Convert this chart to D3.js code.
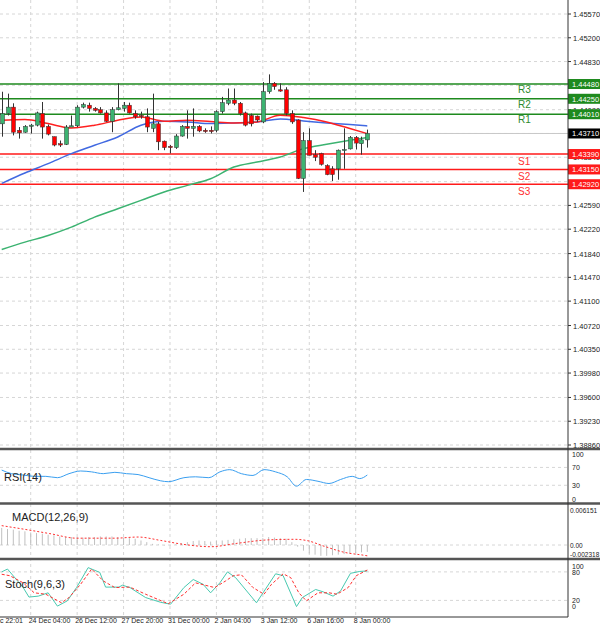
<!DOCTYPE html>
<html><head><meta charset="utf-8">
<script src="https://cdn.jsdelivr.net/npm/d3@7"></script>
<style>body{margin:0;background:#fff}svg{display:block;font-family:"Liberation Sans",Arial,sans-serif}</style>
</head><body><svg id="c" width="600" height="625"></svg>
<script>
// candles, 4h bars
const opens  = [1.4386,1.4402,1.4412,1.4376,1.4373,1.4382,1.4384,1.4402,1.4382,1.4366,1.4355,1.4354,1.4381,1.4383,1.4412,1.4415,1.4410,1.4408,1.4403,1.4390,1.4408,1.4410,1.4415,1.4402,1.4399,1.4397,1.4379,1.4386,1.4359,1.4351,1.4349,1.4367,1.4382,1.4379,1.4382,1.4376,1.4376,1.4376,1.4405,1.4418,1.4423,1.4418,1.4403,1.4399,1.4398,1.4389,1.4436,1.4449,1.4439,1.4439,1.4402,1.4392,1.4301,1.4360,1.4338,1.4340,1.4321,1.4316,1.4316,1.4345,1.4347,1.4365,1.4355,1.4361];
const highs  = [1.4436,1.4433,1.4418,1.4381,1.4384,1.4386,1.4405,1.4420,1.4385,1.4366,1.4360,1.4384,1.4399,1.4415,1.4419,1.4419,1.4412,1.4412,1.4407,1.4412,1.4449,1.4420,1.4419,1.4407,1.4405,1.4410,1.4433,1.4389,1.4360,1.4353,1.4370,1.4384,1.4407,1.4410,1.4384,1.4379,1.4382,1.4407,1.4428,1.4441,1.4441,1.4420,1.4405,1.4402,1.4399,1.4451,1.4463,1.4451,1.4449,1.4443,1.4407,1.4393,1.4373,1.4379,1.4345,1.4341,1.4323,1.4320,1.4346,1.4379,1.4367,1.4367,1.4366,1.4377];
const lows   = [1.4366,1.4399,1.4368,1.4363,1.4372,1.4371,1.4382,1.4363,1.4368,1.4351,1.4350,1.4353,1.4381,1.4381,1.4410,1.4405,1.4405,1.4402,1.4389,1.4373,1.4407,1.4405,1.4402,1.4394,1.4394,1.4373,1.4373,1.4345,1.4345,1.4340,1.4347,1.4366,1.4363,1.4366,1.4373,1.4372,1.4371,1.4373,1.4402,1.4415,1.4415,1.4399,1.4382,1.4382,1.4389,1.4387,1.4433,1.4439,1.4436,1.4399,1.4386,1.4300,1.4280,1.4337,1.4328,1.4321,1.4306,1.4297,1.4299,1.4316,1.4346,1.4346,1.4338,1.4349];
const closes = [1.4402,1.4412,1.4373,1.4372,1.4382,1.4384,1.4403,1.4381,1.4370,1.4353,1.4353,1.4381,1.4383,1.4412,1.4416,1.4410,1.4407,1.4403,1.4390,1.4408,1.4411,1.4415,1.4403,1.4397,1.4398,1.4381,1.4386,1.4358,1.4349,1.4349,1.4367,1.4382,1.4379,1.4382,1.4375,1.4374,1.4374,1.4405,1.4419,1.4423,1.4418,1.4402,1.4384,1.4386,1.4392,1.4436,1.4449,1.4444,1.4437,1.4402,1.4389,1.4301,1.4360,1.4337,1.4334,1.4323,1.4307,1.4307,1.4345,1.4346,1.4365,1.4356,1.4361,1.4371];

// moving averages sampled every 4 bars (last at bar 63)
const maIdx   = [0,4,8,12,16,20,24,28,32,36,40,44,48,52,56,60,63];
const maFast  = [1.43916,1.43926,1.43864,1.43796,1.43838,1.43916,1.43968,1.43900,1.43916,1.43895,1.43874,1.43890,1.43994,1.43958,1.43890,1.43786,1.43708];
const maMid   = [1.42933,1.43094,1.43240,1.43396,1.43526,1.43656,1.43838,1.43900,1.43890,1.43864,1.43874,1.43890,1.43937,1.43906,1.43874,1.43848,1.43828];
const maSlow  = [1.41904,1.42018,1.42122,1.42252,1.42408,1.42538,1.42668,1.42798,1.42902,1.43006,1.43188,1.43266,1.43344,1.43474,1.43542,1.43604,1.43646];

const levelNames  = ["R3","R2","R1","S1","S2","S3"];
const levelValues = [1.4448,1.4425,1.4401,1.4339,1.4315,1.4292];
const lastPrice = 1.4371;

const priceTicks = [1.45570,1.45200,1.44830,1.44460,1.44080,1.43710,1.43340,1.42960,1.42590,1.42220,1.41840,1.41470,1.41100,1.40720,1.40350,1.39980,1.39600,1.39230,1.38860];

const rsiIdx = [0,1.7,3.7,5.6,7.6,9.6,11.6,13.6,15.5,17.5,19.5,21.5,23.5,25.4,27.4,28.7,31.4,33.4,35.7,37.6,39.3,41.3,43.3,45.2,47.2,49.2,50.8,52.5,54.5,56.4,58.4,60.4,61.7,63];
const rsiVal = [64,56,53,50,50,47,56,62,60,56,59,56,54,47,40,38,47,49,47,60,65,56,52,65,60,49,28,43,39,34,43,50,45,53];

const macdHist = [.0030,.0028,.0027,.0025,.0024,.0022,.0021,.0020,.0018,.0017,.0015,.0014,.0014,.0014,.0013,.0014,.0014,.0015,.0015,.0015,.0014,.0013,.0012,.0011,.0008,.0005,.0002,.0001,-.0001,-.0001,.0001,.0003,.0005,.0007,.0008,.0007,.0006,.0007,.0008,.0009,.0010,.0011,.0012,.0012,.0012,.0012,.0014,.0013,.0012,.0011,.0005,-.0003,-.0010,-.0015,-.0017,-.0019,-.0019,-.0018,-.0017,-.0016,-.0015,-.0014,-.0013,-.0012];
const macdSigIdx = [0,3.7,8.3,12.9,19.5,23.5,27.4,31.4,36,40.6,45.9,50.5,52.5,55.8,59.1,62.4,63];
const macdSigVal = [.0034,.0028,.0020,.0012,.0012,.0014,.0008,.0001,-.0003,.0003,.0009,.0010,.0008,-.0003,-.0013,-.0018,-.0019];

const stochKIdx = [0,1,3.7,4.7,6.3,8,9.6,11.3,12.9,14.9,16.9,17.9,20.2,20.8,22.1,24.8,27.4,29.1,31.4,33,34.7,36,37.6,38.9,40.3,43.9,47.2,48.5,50.8,51.8,54.1,55.4,57.1,58.4,60.1,61.7,63];
const stochKVal = [80,86,47,27,29,36,8,19,47,89,79,48,48,52,47,26,16,12,47,64,54,36,57,80,68,15,76,72,7,26,43,38,29,40,77,81,82];
const stochDIdx = [0,1.4,3.7,5.6,7.6,10.3,11.6,13.6,15.5,17.5,19.5,22.1,24.8,28.7,31.4,33.4,36.7,38.6,39.9,41.3,43.3,45.2,46.5,48.5,49.8,51.2,52.5,54.5,56.4,57.8,59.7,61.1,63];
const stochDVal = [75,72,57,36,33,15,26,54,86,61,47,48,33,13,33,57,47,61,72,74,47,33,54,76,68,36,19,36,36,33,47,72,84];

const timeLabels = ["23 Dec 22:01","24 Dec 04:00","26 Dec 12:00","27 Dec 20:00","31 Dec 00:00","2 Jan 04:00","3 Jan 12:00","6 Jan 16:00","8 Jan 00:00"];
const timeIdx = [-3,5,13,21,29,37,45,53,61];

const svg = d3.select("#c");
const axisX = 568;
const x = d3.scaleLinear().domain([0,63]).range([1.7,367.3]);
const y = d3.scaleLinear().domain([1.3886,1.4557]).range([445,14]);
const yRsi = d3.scaleLinear().domain([0,100]).range([498.7,454]);
const yMacd = d3.scaleLinear().domain([0,0.006151]).range([545,510]);
const ySto = d3.scaleLinear().domain([0,100]).range([609.9,562.4]);

const grid = "#d6d6d6";
// vertical grid
timeIdx.slice(1).forEach(i => {
  svg.append("line").attr("x1",x(i)).attr("x2",x(i)).attr("y1",0).attr("y2",617)
    .attr("stroke",grid).attr("stroke-dasharray","3,3");
});
// horizontal grid + price labels
priceTicks.forEach(p => {
  svg.append("line").attr("x1",0).attr("x2",axisX).attr("y1",y(p)).attr("y2",y(p))
    .attr("stroke",grid).attr("stroke-dasharray","3,3");
  svg.append("line").attr("x1",axisX).attr("x2",axisX+3).attr("y1",y(p)).attr("y2",y(p)).attr("stroke","#333");
  svg.append("text").attr("x",573).attr("y",y(p)+3).attr("font-size",7.5).attr("fill","#222").text(p.toFixed(5));
});

// last price line
svg.append("line").attr("x1",0).attr("x2",axisX).attr("y1",y(lastPrice)).attr("y2",y(lastPrice)).attr("stroke","#c8c8c8");

// levels
levelValues.forEach((v,i) => {
  const res = i < 3, col = res ? "#1e8a1e" : "#ff1a1a";
  svg.append("line").attr("x1",0).attr("x2",axisX).attr("y1",y(v)).attr("y2",y(v)).attr("stroke",col).attr("stroke-width",1.5);
  svg.append("text").attr("x",518).attr("y",y(v)+ (res ? 9 : 11)).attr("font-size",10)
    .attr("fill",res ? "#2e8b2e" : "#ff3030").text(levelNames[i]);
});

// moving averages
const maLine = vals => d3.line().curve(d3.curveMonotoneX).x((d,k)=>x(maIdx[k])).y(d=>y(d))(vals);
svg.append("path").attr("d",maLine(maSlow)).attr("fill","none").attr("stroke","#3cb371").attr("stroke-width",1.5);
svg.append("path").attr("d",maLine(maMid)).attr("fill","none").attr("stroke","#4169e1").attr("stroke-width",1.5);
svg.append("path").attr("d",maLine(maFast)).attr("fill","none").attr("stroke","#ff2020").attr("stroke-width",1.5);

// candles
opens.forEach((o,i) => {
  const c = closes[i], up = c >= o, cx = Math.round(x(i))+0.5;
  svg.append("line").attr("x1",cx).attr("x2",cx).attr("y1",y(highs[i])).attr("y2",y(lows[i])).attr("stroke","#333");
  const top = y(Math.max(o,c)), h = Math.max(1, y(Math.min(o,c))-top);
  svg.append("rect").attr("x",cx-2).attr("y",top).attr("width",4).attr("height",h)
    .attr("fill",up ? "#3cb371" : "#ff0000").attr("stroke","#333").attr("stroke-width",0.5);
});

// right axis boxes
levelValues.forEach((v,i) => {
  svg.append("rect").attr("x",axisX).attr("y",y(v)-5).attr("width",32).attr("height",10).attr("fill",i<3 ? "#1e8a1e" : "#ff1a1a");
  svg.append("text").attr("x",572).attr("y",y(v)+3).attr("font-size",7.5).attr("fill","#fff").text(v.toFixed(5));
});
svg.append("rect").attr("x",axisX).attr("y",y(lastPrice)-5).attr("width",32).attr("height",10).attr("fill","#000");
svg.append("text").attr("x",572).attr("y",y(lastPrice)+3).attr("font-size",7.5).attr("fill","#fff").text(lastPrice.toFixed(5));

// RSI panel
[70,30].forEach(v => svg.append("line").attr("x1",0).attr("x2",axisX).attr("y1",yRsi(v)).attr("y2",yRsi(v)).attr("stroke",grid).attr("stroke-dasharray","3,3"));
svg.append("path").attr("d",d3.line().curve(d3.curveMonotoneX).x((d,k)=>x(rsiIdx[k])).y(d=>yRsi(d))(rsiVal))
  .attr("fill","none").attr("stroke","#3a9ff0").attr("stroke-width",1);
svg.append("text").attr("x",4).attr("y",481).attr("font-size",11).attr("fill","#222").text("RSI(14)");
[100,70,30,0].forEach(v => svg.append("text").attr("x",572).attr("y",yRsi(v)+3).attr("font-size",7).attr("fill","#222").text(v));

// MACD panel
svg.append("line").attr("x1",0).attr("x2",axisX).attr("y1",yMacd(0)).attr("y2",yMacd(0)).attr("stroke",grid).attr("stroke-dasharray","3,3");
macdHist.forEach((v,i) => {
  svg.append("line").attr("x1",x(i)).attr("x2",x(i)).attr("y1",yMacd(0)).attr("y2",yMacd(v)).attr("stroke","#c0c0c0");
});
svg.append("path").attr("d",d3.line().curve(d3.curveMonotoneX).x((d,k)=>x(macdSigIdx[k])).y(d=>yMacd(d))(macdSigVal))
  .attr("fill","none").attr("stroke","#ff3030").attr("stroke-dasharray","2,2");
svg.append("text").attr("x",12).attr("y",521).attr("font-size",11).attr("fill","#222").text("MACD(12,26,9)");
[[0.006151,"0.006151",510],[0,"0.00",545],[-0.002318,"-0.002318",554]].forEach(t =>
  svg.append("text").attr("x",570).attr("y",t[2]+3).attr("font-size",6.5).attr("fill","#222").text(t[1]));

// Stochastic panel
[80,20].forEach(v => svg.append("line").attr("x1",0).attr("x2",axisX).attr("y1",ySto(v)).attr("y2",ySto(v)).attr("stroke",grid).attr("stroke-dasharray","3,3"));
svg.append("path").attr("d",d3.line().x((d,k)=>x(stochKIdx[k])).y(d=>ySto(d))(stochKVal))
  .attr("fill","none").attr("stroke","#48c9b0").attr("stroke-width",1);
svg.append("path").attr("d",d3.line().x((d,k)=>x(stochDIdx[k])).y(d=>ySto(d))(stochDVal))
  .attr("fill","none").attr("stroke","#ff3030").attr("stroke-dasharray","3,2");
svg.append("text").attr("x",5).attr("y",588).attr("font-size",11).attr("fill","#222").text("Stoch(9,6,3)");
[[100,566],[80,572],[20,600],[0,606]].forEach(t =>
  svg.append("text").attr("x",572).attr("y",t[1]+3).attr("font-size",7).attr("fill","#222").text(t[0]));

// panel separators & axis
[449,503.5,559].forEach(yy => svg.append("line").attr("x1",0).attr("x2",600).attr("y1",yy).attr("y2",yy).attr("stroke","#555").attr("stroke-width",2.5));
svg.append("line").attr("x1",axisX).attr("x2",axisX).attr("y1",0).attr("y2",617).attr("stroke","#333");
svg.append("line").attr("x1",0).attr("x2",axisX).attr("y1",617).attr("y2",617).attr("stroke","#333");

// time labels, left edge at the grid line
timeLabels.forEach((t,k) => {
  svg.append("text").attr("x",k === 0 ? 23 : x(timeIdx[k]) - 2).attr("y",623).attr("font-size",7)
    .attr("text-anchor",k === 0 ? "end" : "start").attr("fill","#222").text(t);
});
</script></body></html>
